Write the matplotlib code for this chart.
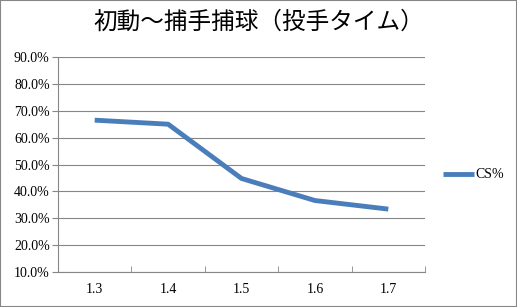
import matplotlib.pyplot as plt
from matplotlib.patches import Rectangle

# データ
categories = ['1.3', '1.4', '1.5', '1.6', '1.7']
cs_rate = [0.665, 0.650, 0.448, 0.366, 0.334]
y_ticks = [0.1, 0.2, 0.3, 0.4, 0.5, 0.6, 0.7, 0.8, 0.9]

plt.rcParams['font.family'] = ['Liberation Serif', 'Noto Sans CJK JP']

fig = plt.figure(figsize=(5.17, 3.07), dpi=100)
ax = fig.add_axes([58 / 517, 1 - 272 / 307, (425 - 58) / 517, (272 - 57) / 307])

x = range(len(categories))
ax.plot(x, cs_rate, color='#4a7ebb', linewidth=3.5, solid_capstyle='butt', label='CS%')

ax.set_xlim(-0.5, len(categories) - 0.5)
ax.set_ylim(0.1, 0.9)
ax.set_yticks(y_ticks)
ax.set_yticklabels([f'{v * 100:.1f}%' for v in y_ticks], fontsize=10)
ax.set_xticks(list(x))
ax.set_xticklabels(categories, fontsize=10)
ax.set_xticks([i + 0.5 for i in range(-1, len(categories))], minor=True)
ax.tick_params(axis='x', which='major', length=0, pad=8)
ax.tick_params(axis='x', which='minor', length=4, direction='in', color='#868686')
ax.tick_params(axis='y', length=4, color='#868686', pad=2)
ax.grid(axis='y', color='#868686', linewidth=0.8)
for s in ['top', 'right']:
    ax.spines[s].set_visible(False)
for s in ['left', 'bottom']:
    ax.spines[s].set_color('#868686')

fig.text(0.5, 1 - 22 / 307, '初動～捕手捕球（投手タイム）', ha='center', va='center',
         fontsize=17, family=['Noto Sans CJK JP'])

ax.legend(loc='center left', bbox_to_anchor=(443 / 517, 1 - 175 / 307),
          bbox_transform=fig.transFigure, frameon=False, fontsize=10,
          handlelength=2.2, handletextpad=0.1, borderpad=0, borderaxespad=0)

fig.patches.append(Rectangle((0, 0), 1, 1, transform=fig.transFigure, fill=False,
                             edgecolor='#868686', linewidth=1.5))

fig.savefig('out.png', dpi=100)
